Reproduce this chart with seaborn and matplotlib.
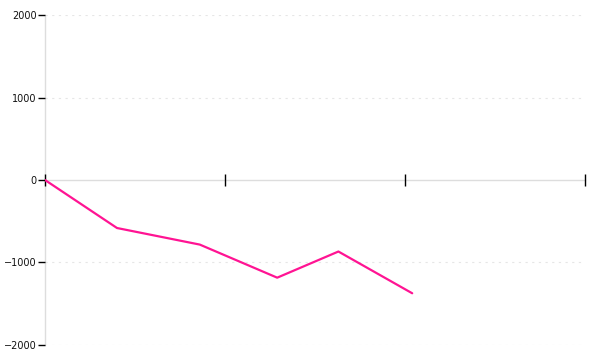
import matplotlib
matplotlib.use("Agg")
import matplotlib.pyplot as plt
import seaborn as sns
import pandas as pd

x_values = [0.0, 0.40, 0.86, 1.29, 1.63, 2.04]
y_values = [0, -582, -783, -1184, -867, -1373]
x_ticks = [0, 1, 2, 3]
y_ticks = [-2000, -1000, 0, 1000, 2000]

df = pd.DataFrame({"x": x_values, "y": y_values})

sns.set_style("white")
plt.rcParams["font.family"] = ["DejaVu Sans"]

fig = plt.figure(figsize=(6, 3.6), dpi=100)
ax = fig.add_axes([0.075, 0.0417, 0.9, 0.9166])

for t in [-2000, -1000, 1000, 2000]:
    ax.axhline(t, color="#e6e6e6", lw=0.8, ls=(0, (2, 4)), zorder=0)

sns.lineplot(data=df, x="x", y="y", ax=ax, color="#ff1493", lw=1.6)

ax.set_xlim(0, 3)
ax.set_ylim(-2000, 2000)
ax.set_xticks(x_ticks)
ax.set_xticklabels([])
ax.set_yticks(y_ticks)
ax.set_yticklabels([str(v).replace("-", "\u2212") for v in y_ticks])
ax.set_xlabel("")
ax.set_ylabel("")

for s in ["top", "right"]:
    ax.spines[s].set_visible(False)
ax.spines["bottom"].set_position(("data", 0))
ax.spines["bottom"].set_color("#dddddd")
ax.spines["left"].set_color("#dddddd")
ax.spines["bottom"].set_linewidth(1)
ax.spines["left"].set_linewidth(1)
ax.spines["bottom"].set_zorder(0.5)
ax.spines["left"].set_zorder(0.5)

ax.tick_params(axis="y", left=True, direction="out", length=5, width=1,
               color="black", labelsize=7, pad=1, labelcolor="#111111")
ax.tick_params(axis="x", bottom=True, direction="inout", length=8, width=1,
               color="black")

fig.savefig("out.png", dpi=100)
